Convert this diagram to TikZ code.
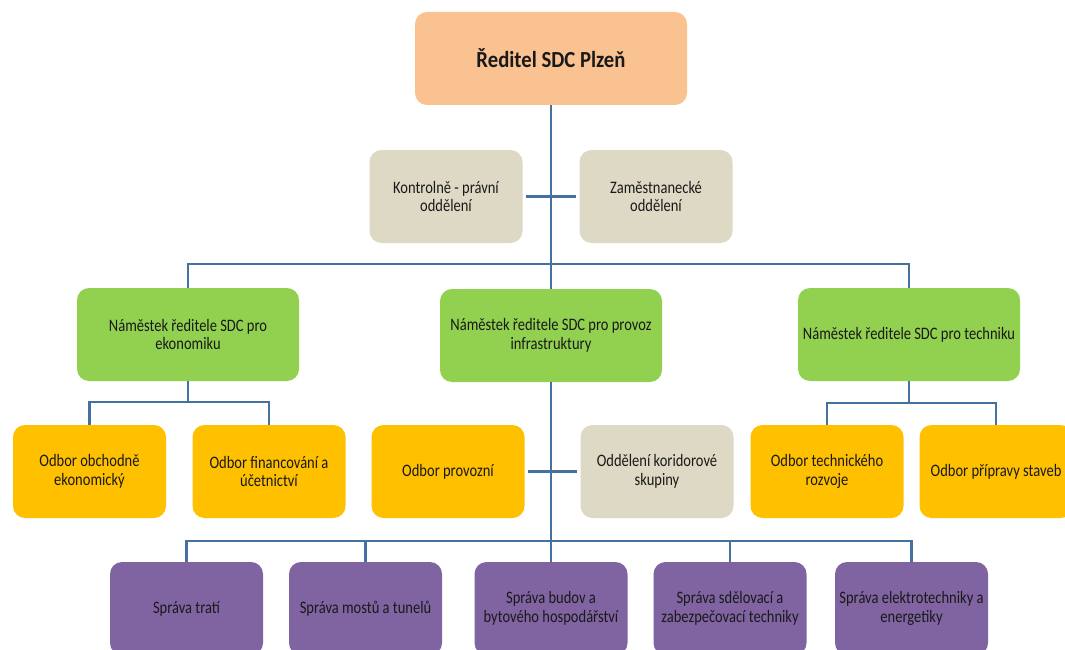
\documentclass[tikz,border=0pt]{standalone}
\usepackage{fontspec}
\setmainfont{Carlito}[FakeStretch=0.83]
\newfontfamily\dirfont{Carlito}[FakeStretch=0.9]
\begin{document}
\begin{tikzpicture}[x=1pt,y=-1pt,
  box/.style={rounded corners=12pt, align=center, text=black!90, font=\fontsize{17.5}{18.5}\selectfont, inner sep=2pt},
  sbox/.style={box, minimum width=153pt, minimum height=93pt},
  gbox/.style={box, minimum width=222pt, minimum height=93pt, fill=greenc},
  conn/.style={draw=linec, line width=2.8pt}
]
\definecolor{peach}{HTML}{FAC291}
\definecolor{grayc}{HTML}{DDD9C4}
\definecolor{greenc}{HTML}{92D050}
\definecolor{orangec}{HTML}{FFC000}
\definecolor{purplec}{HTML}{8064A2}
\definecolor{linec}{HTML}{45719F}
\useasboundingbox (0,0) rectangle (1065,650);
\clip (0,0) rectangle (1065,650);
\fill[white] (0,0) rectangle (1065,650);

% director
\node[box, fill=peach, minimum width=272pt, minimum height=93pt, font=\dirfont\fontsize{23}{26}\selectfont\bfseries] (dir) at (551,58.5) {Ředitel SDC Plzeň};

% staff
\node[sbox, fill=grayc] (kp) at (446,196.5) {Kontrolně - právní\\oddělení};
\node[sbox, fill=grayc] (zo) at (656,196.5) {Zaměstnanecké\\oddělení};

% deputies
\node[gbox] (g1) at (188,334.5) {Náměstek ředitele SDC pro\\ekonomiku};
\node[gbox] (g2) at (551,335.5) {Náměstek ředitele SDC pro provoz\\infrastruktury};
\node[gbox] (g3) at (909,334.5) {Náměstek ředitele SDC pro techniku};

% departments
\node[sbox, fill=orangec] (o1) at (89.5,471.5) {Odbor obchodně\\ekonomický};
\node[sbox, fill=orangec] (o2) at (269,471.5) {Odbor financování a\\účetnictví};
\node[sbox, fill=orangec] (o3) at (448,471.5) {Odbor provozní};
\node[sbox, fill=grayc] (o4) at (657,471.5) {Oddělení koridorové\\skupiny};
\node[sbox, fill=orangec] (o5) at (827,471.5) {Odbor technického\\rozvoje};
\node[sbox, fill=orangec] (o6) at (996,471.5) {Odbor přípravy staveb};

% bottom
\node[sbox, fill=purplec] (p1) at (186.5,608.5) {Správa tratí};
\node[sbox, fill=purplec] (p2) at (365.5,608.5) {Správa mostů a tunelů};
\node[sbox, fill=purplec] (p3) at (551,608.5) {Správa budov a\\bytového hospodářství};
\node[sbox, fill=purplec] (p4) at (730,608.5) {Správa sdělovací a\\zabezpečovací techniky};
\node[sbox, fill=purplec] (p5) at (911.5,608.5) {Správa elektrotechniky a\\energetiky};

% junctions
\coordinate (bar1) at (551,264);
\coordinate (lb) at (188,402);
\coordinate (rb) at (909,403);
\coordinate (bar2) at (551,541);

% connectors
\draw[conn] (dir.south) -- (g2.north);
\draw[conn, shorten <=3pt, shorten >=3pt] (kp.east) -- (zo.west);
\draw[conn] (g1.north) |- (bar1) -| (g3.north);
\draw[conn] (g1.south) -- (lb);
\draw[conn] (o1.north) |- (lb) -| (o2.north);
\draw[conn] (g3.south) -- (rb);
\draw[conn] (o5.north) |- (rb) -| (o6.north);
\draw[conn] (g2.south) -- (bar2);
\draw[conn, shorten <=3pt, shorten >=3pt] (o3.east) -- (o4.west);
\draw[conn] (p1.north) |- (bar2) -| (p5.north);
\draw[conn] (p2.north) -- (p2.north |- bar2);
\draw[conn] (p3.north) -- (bar2);
\draw[conn] (p4.north) -- (p4.north |- bar2);
\end{tikzpicture}
\end{document}
